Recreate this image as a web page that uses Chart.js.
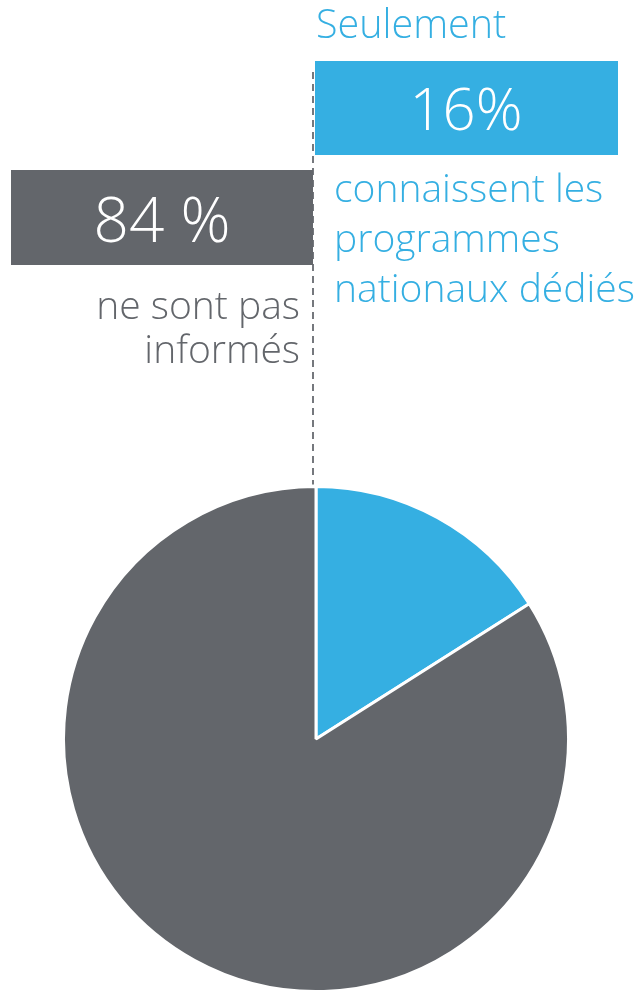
<!DOCTYPE html>
<html>
<head>
<meta charset="utf-8">
<script src="https://cdn.jsdelivr.net/npm/chart.js@4/dist/chart.umd.min.js"></script>
<style>
  html, body { margin: 0; padding: 0; background: #fff; }
  #wrap { width: 642px; height: 993px; position: relative; }
</style>
</head>
<body>
<div id="wrap"><canvas id="myChart"></canvas></div>
<script>
const labels = ['connaissent les programmes nationaux dédiés', 'ne sont pas informés'];
const values = [16, 84];
const intro = 'Seulement';
const blueLines = ['connaissent les', 'programmes', 'nationaux dédiés'];
const grayLines = ['ne sont pas', 'informés'];

const bleu = '#35afe2';
const gris = '#63666b';
const police = '"Open Sans", sans-serif';

// boites, textes et trait pointille au-dessus du camembert
const annotations = {
  id: 'annotations',
  afterDraw(chart) {
    const ctx = chart.ctx;
    const arc = chart.getDatasetMeta(0).data[0];
    const cx = arc.x;
    const top = arc.y - arc.outerRadius;
    ctx.save();

    ctx.strokeStyle = '#75787d';
    ctx.lineWidth = 2;
    ctx.setLineDash([7, 5]);
    ctx.beginPath();
    ctx.moveTo(cx - 3, 72);
    ctx.lineTo(cx - 3, top - 2);
    ctx.stroke();
    ctx.setLineDash([]);

    // boite bleue
    ctx.fillStyle = bleu;
    ctx.fillRect(cx - 1, 61, 303, 94);
    // boite grise
    ctx.fillStyle = gris;
    ctx.fillRect(11, 170, cx - 14, 95);

    ctx.textBaseline = 'alphabetic';
    ctx.fillStyle = bleu;
    ctx.textAlign = 'left';
    ctx.font = '300 39.5px ' + police;
    ctx.fillText(intro, cx, 38);

    ctx.fillStyle = '#fff';
    ctx.textAlign = 'center';
    ctx.font = '300 58px ' + police;
    ctx.fillText(values[0] + '%', cx + 150, 130);
    ctx.font = '300 62px ' + police;
    ctx.fillText(values[1] + ' %', (11 + cx - 3) / 2, 242);

    ctx.fillStyle = bleu;
    ctx.textAlign = 'left';
    ctx.font = '300 39px ' + police;
    blueLines.forEach((t, i) => ctx.fillText(t, cx + 18, 202 + i * 50));

    ctx.fillStyle = gris;
    ctx.textAlign = 'right';
    ctx.font = '300 39px ' + police;
    grayLines.forEach((t, i) => ctx.fillText(t, 300, 319 + i * 44));

    ctx.restore();
  }
};

let canva = document.getElementById('myChart').getContext('2d');
let config = {
  type: 'pie',
  data: {
    labels: labels,
    datasets: [{
      data: values,
      backgroundColor: [bleu, gris],
      borderColor: '#fff',
      borderWidth: 3
    }]
  },
  options: {
    responsive: true,
    maintainAspectRatio: false,
    animation: false,
    layout: { padding: { left: 60, right: 70, top: 485, bottom: 0 } },
    plugins: {
      legend: { display: false },
      tooltip: { enabled: false }
    }
  },
  plugins: [annotations]
};
window.grafica = new Chart(canva, config);
</script>
</body>
</html>
